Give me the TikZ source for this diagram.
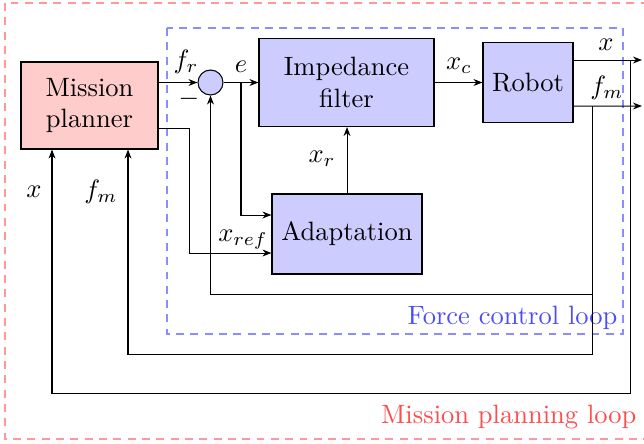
\documentclass[tikz,border=0pt]{standalone}
\usetikzlibrary{arrows.meta,calc}
\definecolor{blockblue}{RGB}{204,204,255}
\definecolor{blockred}{RGB}{255,204,204}
\tikzset{
  block/.style={draw, inner sep=0pt, align=center, line width=0.4pt},
  sig/.style={-{Stealth[length=3.4pt,width=2.6pt]}, line width=0.38pt},
  lbl/.style={inner sep=0pt},
  loopbox/.style={line width=0.8pt, dash pattern=on 3pt off 2.4pt},
}
\begin{document}
\begin{tikzpicture}[x=0.377pt, y=-0.377pt]
\useasboundingbox (0,0) rectangle (644,443);

% loop frames
\draw[loopbox, red!40] (5,3) rectangle (650,439);
\draw[loopbox, blue!45] (167,28) rectangle (623,334);
\node[lbl, text=blue!70, anchor=east] (fcl) at (618,318) {Force control loop};
\node[lbl, text=red!70, anchor=east] (mpl) at (637,417) {Mission planning loop};

% blocks
\node[block, fill=blockred, minimum width=137*0.377pt, minimum height=87*0.377pt]
  (planner) at (89.5,105.5) {Mission\\planner};
\node[draw, circle, fill=blockblue, minimum size=25*0.377pt, inner sep=0pt, line width=0.4pt]
  (sum) at (210.5,82.5) {};
\node[block, fill=blockblue, minimum width=175*0.377pt, minimum height=88*0.377pt]
  (imp) at (346.5,82.5) {Impedance\\filter};
\node[block, fill=blockblue, minimum width=90*0.377pt, minimum height=80*0.377pt]
  (robot) at (528,82.5) {Robot};
\node[block, fill=blockblue, minimum width=150*0.377pt, minimum height=80*0.377pt]
  (adapt) at (347,234) {Adaptation};

% reference path
\draw[sig] (planner.east |- sum.west) -- (sum.west);
\node[lbl] (lfr) at (186,62) {$f_r$};
\node[lbl] (lminus) at (189,99) {$-$};

\draw[sig] (sum.east) -- (imp.west);
\node[lbl] (le) at (241,67) {$e$};
\coordinate (eb) at (241,82.5);
\draw[sig] (eb) |- ($(adapt.west)+(0,-19)$);

\coordinate (xrefstart) at ($(planner.east)+(0,22.5)$);
\draw[sig] (xrefstart) -- ++(31,0) |- ($(adapt.west)+(0,19)$);
\node[lbl] (lxref) at (243,240) {$x_{ref}$};

\draw[sig] (adapt.north) -- (imp.south -| adapt.north);
\node[lbl] (lxr) at (322,159) {$x_r$};

\draw[sig] (imp.east) -- (robot.west);
\node[lbl] (lxc) at (459,66) {$x_c$};

% robot outputs
\coordinate (xout) at (642,60);
\coordinate (fout) at (642,106);
\draw[sig] ($(robot.east)+(0,-22.5)$) -- (xout);
\draw[sig] ($(robot.east)+(0,23.5)$) -- (fout);
\node[lbl] (lx) at (606,45) {$x$};
\node[lbl] (lfm) at (607,88) {$f_m$};

% feedback paths
\coordinate (xb) at (630,60);
\coordinate (fb) at (592,106);
\coordinate (xcorner) at (52,393);
\coordinate (fcorner) at (128,354);
\coordinate (inner) at (592,294);
\draw[sig] (xb) |- (xcorner) -- (planner.south -| xcorner);
\draw[sig] (fb) |- (fcorner) -- (planner.south -| fcorner);
\draw[sig] (inner) -| (sum.south);

\node[lbl] (lx2) at (34,192) {$x$};
\node[lbl] (lfm2) at (101,192) {$f_m$};
\end{tikzpicture}
\end{document}
